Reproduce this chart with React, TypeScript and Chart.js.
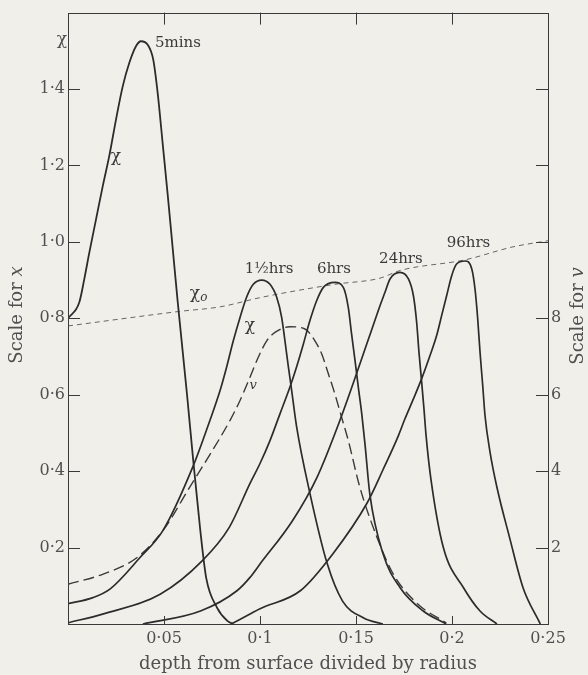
import React, { useEffect, useRef } from "react";
import { Chart, registerables } from "chart.js";

Chart.register(...registerables);

// ---- tick values / labels ----
const xTicks = [0.05, 0.1, 0.15, 0.2, 0.25];
const xTickLabels = ["0·05", "0·1", "0·15", "0·2", "0·25"];
const topTicks = [0.05, 0.1, 0.15, 0.2];
const leftTicks = [0.2, 0.4, 0.6, 0.8, 1.0, 1.2, 1.4];
const leftTickLabels = ["0·2", "0·4", "0·6", "0·8", "1·0", "1·2", "1·4"];
const rightTicks = [2, 4, 6, 8, 10, 12, 14];
const rightTickLabels = ["2", "4", "6", "8", "", "", ""];

// ---- series (x = depth from surface / radius) ----
const min5X = [0, 0.0059, 0.0085, 0.0111, 0.0146, 0.0181, 0.0215, 0.025, 0.0285, 0.0319, 0.0354, 0.038, 0.0415, 0.0444, 0.0467, 0.0493, 0.0519, 0.0545, 0.0571, 0.062, 0.065, 0.0688, 0.072, 0.0776, 0.083, 0.086];
const min5Chi = [0.8, 0.842, 0.903, 0.972, 1.059, 1.146, 1.225, 1.32, 1.407, 1.468, 1.512, 1.525, 1.516, 1.477, 1.39, 1.258, 1.125, 0.985, 0.845, 0.6, 0.44, 0.25, 0.12, 0.043, 0.008, 0];

const h1X = [0, 0.013, 0.022, 0.0375, 0.0495, 0.065, 0.074, 0.0792, 0.0826, 0.0861, 0.0896, 0.093, 0.0965, 0.1009, 0.1052, 0.1087, 0.1113, 0.113, 0.1148, 0.1165, 0.1191, 0.126, 0.135, 0.143, 0.154, 0.164];
const h1Chi = [0.053, 0.069, 0.092, 0.174, 0.245, 0.411, 0.534, 0.611, 0.672, 0.741, 0.802, 0.855, 0.889, 0.9, 0.889, 0.855, 0.802, 0.741, 0.672, 0.611, 0.515, 0.342, 0.158, 0.06, 0.016, 0];

const vX = [0, 0.018, 0.036, 0.0495, 0.0635, 0.0844, 0.0896, 0.0948, 0.0991, 0.1035, 0.1078, 0.1156, 0.1234, 0.1286, 0.1321, 0.1356, 0.139, 0.1425, 0.146, 0.152, 0.161, 0.1695, 0.182, 0.197];
const vVal = [1.04, 1.3, 1.74, 2.45, 3.59, 5.33, 5.85, 6.46, 6.98, 7.41, 7.63, 7.78, 7.72, 7.41, 7.07, 6.55, 6.02, 5.41, 4.8, 3.58, 2.26, 1.3, 0.53, 0.03];

const h6X = [0, 0.018, 0.048, 0.07, 0.084, 0.0948, 0.1, 0.1052, 0.1104, 0.1156, 0.119, 0.1226, 0.126, 0.1295, 0.133, 0.139, 0.1434, 0.146, 0.1477, 0.1495, 0.1512, 0.153, 0.1547, 0.1572, 0.164, 0.173, 0.185, 0.197];
const h6Chi = [0.003, 0.026, 0.078, 0.166, 0.253, 0.368, 0.42, 0.48, 0.55, 0.62, 0.672, 0.733, 0.794, 0.846, 0.881, 0.894, 0.881, 0.828, 0.759, 0.689, 0.62, 0.55, 0.47, 0.34, 0.185, 0.095, 0.034, 0];

const h24X = [0.039, 0.069, 0.088, 0.0948, 0.1, 0.117, 0.1297, 0.1417, 0.157, 0.1625, 0.1651, 0.1677, 0.1729, 0.1773, 0.1799, 0.1816, 0.1828, 0.1842, 0.1854, 0.1865, 0.189, 0.1955, 0.206, 0.2146, 0.2234];
const h24Chi = [0, 0.034, 0.087, 0.122, 0.157, 0.271, 0.384, 0.534, 0.753, 0.833, 0.868, 0.903, 0.92, 0.903, 0.859, 0.789, 0.711, 0.633, 0.563, 0.493, 0.38, 0.2, 0.095, 0.034, 0];

const h96X = [0.085, 0.0948, 0.1, 0.121, 0.138, 0.1557, 0.164, 0.1721, 0.1755, 0.1799, 0.1842, 0.1885, 0.192, 0.1946, 0.1972, 0.1998, 0.2024, 0.2068, 0.2103, 0.212, 0.2134, 0.2146, 0.216, 0.2172, 0.2198, 0.2234, 0.23, 0.237, 0.246];
const h96Chi = [0, 0.026, 0.04, 0.087, 0.184, 0.316, 0.403, 0.493, 0.537, 0.589, 0.642, 0.702, 0.755, 0.807, 0.859, 0.911, 0.942, 0.95, 0.929, 0.876, 0.798, 0.711, 0.624, 0.545, 0.45, 0.358, 0.226, 0.095, 0];

const chi0X = [0, 0.058, 0.0792, 0.1009, 0.139, 0.1625, 0.1729, 0.2068, 0.2318, 0.25];
const chi0Val = [0.78, 0.818, 0.83, 0.855, 0.889, 0.905, 0.925, 0.953, 0.987, 1.003];

// ---- text annotations (data coordinates) ----
const curveLabels = ["5mins", "1½hrs", "6hrs", "24hrs", "96hrs"];
const curveLabelX = [0.0573, 0.1047, 0.1385, 0.1734, 0.2086];
const curveLabelY = [1.52, 0.93, 0.93, 0.956, 0.997];

const chiLabelX = [0.025, 0.0948];
const chiLabelY = [1.2245, 0.781];
const chi0LabelX = [0.0661];
const chi0LabelY = [0.864];
const vLabelX = [0.0965];
const vLabelY = [0.624];
const axisChiY = 1.53;

const INK = "#2c2c2c";
const TEXT = "#505050";
const BG = "#f1efea";
const SERIF = "'DejaVu Serif', 'Liberation Serif', serif";

const pts = (xs: number[], ys: number[]) => xs.map((x, i) => ({ x, y: ys[i] }));

const decorPlugin = {
  id: "decor",
  beforeDraw(chart: any) {
    const { ctx, width, height } = chart;
    ctx.save();
    ctx.fillStyle = BG;
    ctx.fillRect(0, 0, width, height);
    ctx.restore();
  },
  afterDraw(chart: any) {
    const { ctx, chartArea: a, scales } = chart;
    const sx = scales.x;
    const sy = scales.y;
    const sy1 = scales.y1;
    ctx.save();
    // frame
    ctx.strokeStyle = "#3a3a3a";
    ctx.lineWidth = 1;
    ctx.strokeRect(Math.round(a.left) + 0.5, Math.round(a.top) + 0.5, Math.round(a.right - a.left), Math.round(a.bottom - a.top));
    // inner ticks
    ctx.beginPath();
    xTicks.forEach((v) => {
      const px = Math.round(sx.getPixelForValue(v)) + 0.5;
      ctx.moveTo(px, a.bottom);
      ctx.lineTo(px, a.bottom - 8);
    });
    topTicks.forEach((v) => {
      const px = Math.round(sx.getPixelForValue(v)) + 0.5;
      ctx.moveTo(px, a.top);
      ctx.lineTo(px, a.top + 12);
    });
    leftTicks.forEach((v) => {
      const py = Math.round(sy.getPixelForValue(v)) + 0.5;
      ctx.moveTo(a.left, py);
      ctx.lineTo(a.left + 12, py);
    });
    rightTicks.forEach((v) => {
      const py = Math.round(sy1.getPixelForValue(v)) + 0.5;
      ctx.moveTo(a.right, py);
      ctx.lineTo(a.right - 12, py);
    });
    ctx.stroke();

    // rotated axis titles with italic variable
    const drawRotTitle = (cx: number, cy: number, plain: string, ital: string) => {
      ctx.save();
      ctx.translate(cx, cy);
      ctx.rotate(-Math.PI / 2);
      ctx.fillStyle = TEXT;
      ctx.textBaseline = "middle";
      ctx.textAlign = "left";
      ctx.font = `18px ${SERIF}`;
      const w1 = ctx.measureText(plain).width;
      ctx.font = `italic 18px ${SERIF}`;
      const w2 = ctx.measureText(ital).width;
      const x0 = -(w1 + w2) / 2;
      ctx.font = `18px ${SERIF}`;
      ctx.fillText(plain, x0, 0);
      ctx.font = `italic 18px ${SERIF}`;
      ctx.fillText(ital, x0 + w1, 0);
      ctx.restore();
    };
    drawRotTitle(17, 315, "Scale for ", "x");
    drawRotTitle(578, 316, "Scale for ", "v");

    // chi at the top of the left axis
    ctx.fillStyle = TEXT;
    ctx.font = `17px ${SERIF}`;
    ctx.textAlign = "right";
    ctx.textBaseline = "middle";
    ctx.fillText("χ", a.left - 1, sy.getPixelForValue(axisChiY));

    // curve labels
    ctx.fillStyle = "#3a3a3a";
    ctx.textAlign = "center";
    ctx.font = `15px ${SERIF}`;
    curveLabels.forEach((t, i) => {
      ctx.fillText(t, sx.getPixelForValue(curveLabelX[i]), sy.getPixelForValue(curveLabelY[i]));
    });
    ctx.font = `17px ${SERIF}`;
    chiLabelX.forEach((x, i) => {
      ctx.fillText("χ", sx.getPixelForValue(x), sy.getPixelForValue(chiLabelY[i]));
    });
    chi0LabelX.forEach((x, i) => {
      const px = sx.getPixelForValue(x);
      const py = sy.getPixelForValue(chi0LabelY[i]);
      ctx.font = `17px ${SERIF}`;
      ctx.fillText("χ", px, py);
      ctx.font = `italic 12px ${SERIF}`;
      ctx.fillText("o", px + 9, py + 4);
    });
    ctx.font = `italic 13px ${SERIF}`;
    vLabelX.forEach((x, i) => {
      ctx.fillText("v", sx.getPixelForValue(x), sy.getPixelForValue(vLabelY[i]));
    });
    ctx.restore();
  },
};

export default function App() {
  const ref = useRef<HTMLCanvasElement | null>(null);
  useEffect(() => {
    if (!ref.current) return;
    const solid = (label: string, data: any[], w = 1.7) => ({
      label,
      data,
      borderColor: INK,
      borderWidth: w,
      pointRadius: 0,
      fill: false,
      cubicInterpolationMode: "monotone" as const,
      yAxisID: "y",
    });
    const chart = new Chart(ref.current, {
      type: "line",
      data: {
        datasets: [
          solid("5mins", pts(min5X, min5Chi), 1.8),
          solid("1½hrs", pts(h1X, h1Chi)),
          solid("6hrs", pts(h6X, h6Chi)),
          solid("24hrs", pts(h24X, h24Chi)),
          solid("96hrs", pts(h96X, h96Chi)),
          {
            label: "v",
            data: pts(vX, vVal),
            borderColor: "#3a3a3a",
            borderWidth: 1.4,
            borderDash: [11, 5],
            pointRadius: 0,
            fill: false,
            cubicInterpolationMode: "monotone",
            yAxisID: "y1",
          },
          {
            label: "χo",
            data: pts(chi0X, chi0Val),
            borderColor: "#666",
            borderWidth: 1,
            borderDash: [5, 4],
            pointRadius: 0,
            fill: false,
            cubicInterpolationMode: "monotone",
            yAxisID: "y",
          },
        ],
      },
      options: {
        responsive: false,
        animation: false,
        layout: { padding: { top: 11, left: 0, right: 0, bottom: 0 } },
        plugins: { legend: { display: false }, tooltip: { enabled: false } },
        scales: {
          x: {
            type: "linear",
            min: 0,
            max: 0.25,
            afterBuildTicks: (s: any) => {
              s.ticks = xTicks.map((v) => ({ value: v }));
            },
            afterFit: (s: any) => {
              s.height = 51;
            },
            grid: { display: false, drawTicks: false },
            border: { display: false },
            ticks: {
              autoSkip: false,
              maxRotation: 0,
              padding: 5,
              color: TEXT,
              font: { family: SERIF, size: 16 },
              callback: (_v: any, i: number) => xTickLabels[i],
            },
            title: {
              display: true,
              text: "depth from surface divided by radius",
              color: TEXT,
              font: { family: SERIF, size: 18 },
              padding: { top: 0, bottom: 0 },
            },
          },
          y: {
            type: "linear",
            position: "left",
            min: 0,
            max: 1.6,
            afterBuildTicks: (s: any) => {
              s.ticks = leftTicks.map((v) => ({ value: v }));
            },
            afterFit: (s: any) => {
              s.width = 68;
            },
            grid: { display: false, drawTicks: false },
            border: { display: false },
            ticks: {
              autoSkip: false,
              padding: 3,
              color: TEXT,
              font: { family: SERIF, size: 16 },
              callback: (_v: any, i: number) => leftTickLabels[i],
            },
          },
          y1: {
            type: "linear",
            position: "right",
            min: 0,
            max: 16,
            afterBuildTicks: (s: any) => {
              s.ticks = rightTicks.map((v) => ({ value: v }));
            },
            afterFit: (s: any) => {
              s.width = 40;
            },
            grid: { display: false, drawTicks: false },
            border: { display: false },
            ticks: {
              autoSkip: false,
              padding: 3,
              color: TEXT,
              font: { family: SERIF, size: 16 },
              callback: (_v: any, i: number) => rightTickLabels[i],
            },
          },
        },
      },
      plugins: [decorPlugin],
    });
    return () => chart.destroy();
  }, []);
  return (
    <div style={{ position: "fixed", left: 0, top: 0, width: 588, height: 675, background: BG }}>
      <canvas ref={ref} width={588} height={675} style={{ display: "block" }} />
    </div>
  );
}
